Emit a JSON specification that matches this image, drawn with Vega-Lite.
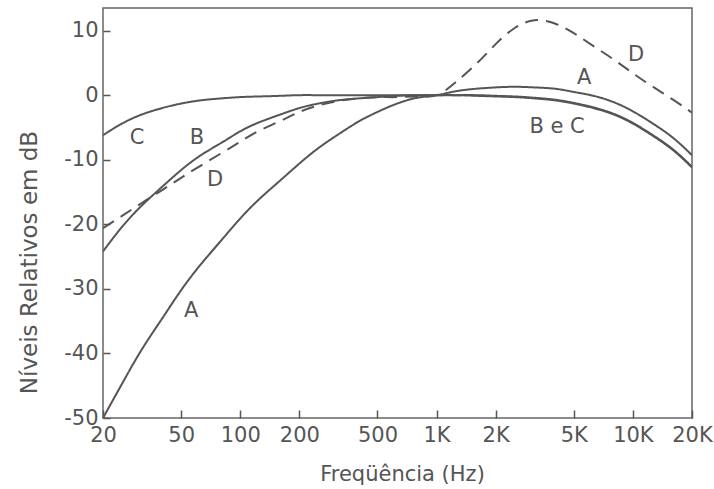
{
  "$schema": "https://vega.github.io/schema/vega-lite/v6.json",
  "autosize": "none",
  "width": 589,
  "height": 410,
  "padding": {"left": 103, "top": 8, "right": 22, "bottom": 71},
  "background": "white",
  "config": {
    "view": {"stroke": "#666", "strokeWidth": 1.5},
    "font": "DejaVu Sans"
  },
  "datasets": {
    "curves": [
      {"curve": "A", "f": 20, "db": -50}, {"curve": "A", "f": 25, "db": -44.7}, {"curve": "A", "f": 31.5, "db": -39.4}, {"curve": "A", "f": 40, "db": -34.6}, {"curve": "A", "f": 50, "db": -30.2}, {"curve": "A", "f": 63, "db": -26.2}, {"curve": "A", "f": 80, "db": -22.5}, {"curve": "A", "f": 100, "db": -19.1}, {"curve": "A", "f": 125, "db": -16.1}, {"curve": "A", "f": 160, "db": -13.2}, {"curve": "A", "f": 200, "db": -10.6}, {"curve": "A", "f": 250, "db": -8.2}, {"curve": "A", "f": 315, "db": -6.1}, {"curve": "A", "f": 400, "db": -4.1}, {"curve": "A", "f": 500, "db": -2.6}, {"curve": "A", "f": 630, "db": -1.3}, {"curve": "A", "f": 800, "db": -0.4}, {"curve": "A", "f": 1000, "db": 0}, {"curve": "A", "f": 1250, "db": 0.6}, {"curve": "A", "f": 1600, "db": 1.0}, {"curve": "A", "f": 2000, "db": 1.2}, {"curve": "A", "f": 2500, "db": 1.3}, {"curve": "A", "f": 3150, "db": 1.2}, {"curve": "A", "f": 4000, "db": 1.0}, {"curve": "A", "f": 5000, "db": 0.5}, {"curve": "A", "f": 6300, "db": -0.1}, {"curve": "A", "f": 8000, "db": -1.1}, {"curve": "A", "f": 10000, "db": -2.5}, {"curve": "A", "f": 12500, "db": -4.3}, {"curve": "A", "f": 16000, "db": -6.6}, {"curve": "A", "f": 20000, "db": -9.3},
      {"curve": "B", "f": 20, "db": -24.2}, {"curve": "B", "f": 25, "db": -20.4}, {"curve": "B", "f": 31.5, "db": -17.1}, {"curve": "B", "f": 40, "db": -14.2}, {"curve": "B", "f": 50, "db": -11.6}, {"curve": "B", "f": 63, "db": -9.3}, {"curve": "B", "f": 80, "db": -7.4}, {"curve": "B", "f": 100, "db": -5.6}, {"curve": "B", "f": 125, "db": -4.2}, {"curve": "B", "f": 160, "db": -3.0}, {"curve": "B", "f": 200, "db": -2.0}, {"curve": "B", "f": 250, "db": -1.3}, {"curve": "B", "f": 315, "db": -0.8}, {"curve": "B", "f": 400, "db": -0.5}, {"curve": "B", "f": 500, "db": -0.3}, {"curve": "B", "f": 630, "db": -0.1}, {"curve": "B", "f": 800, "db": 0}, {"curve": "B", "f": 1000, "db": 0}, {"curve": "B", "f": 1250, "db": 0}, {"curve": "B", "f": 1600, "db": 0}, {"curve": "B", "f": 2000, "db": -0.1}, {"curve": "B", "f": 2500, "db": -0.2}, {"curve": "B", "f": 3150, "db": -0.4}, {"curve": "B", "f": 4000, "db": -0.7}, {"curve": "B", "f": 5000, "db": -1.2}, {"curve": "B", "f": 6300, "db": -1.9}, {"curve": "B", "f": 8000, "db": -2.9}, {"curve": "B", "f": 10000, "db": -4.3}, {"curve": "B", "f": 12500, "db": -6.1}, {"curve": "B", "f": 16000, "db": -8.4}, {"curve": "B", "f": 20000, "db": -11.1},
      {"curve": "C", "f": 20, "db": -6.2}, {"curve": "C", "f": 25, "db": -4.4}, {"curve": "C", "f": 31.5, "db": -3.0}, {"curve": "C", "f": 40, "db": -2.0}, {"curve": "C", "f": 50, "db": -1.3}, {"curve": "C", "f": 63, "db": -0.8}, {"curve": "C", "f": 80, "db": -0.5}, {"curve": "C", "f": 100, "db": -0.3}, {"curve": "C", "f": 125, "db": -0.2}, {"curve": "C", "f": 160, "db": -0.1}, {"curve": "C", "f": 200, "db": 0}, {"curve": "C", "f": 250, "db": 0}, {"curve": "C", "f": 315, "db": 0}, {"curve": "C", "f": 400, "db": 0}, {"curve": "C", "f": 500, "db": 0}, {"curve": "C", "f": 630, "db": 0}, {"curve": "C", "f": 800, "db": 0}, {"curve": "C", "f": 1000, "db": 0}, {"curve": "C", "f": 1250, "db": 0}, {"curve": "C", "f": 1600, "db": -0.1}, {"curve": "C", "f": 2000, "db": -0.2}, {"curve": "C", "f": 2500, "db": -0.3}, {"curve": "C", "f": 3150, "db": -0.5}, {"curve": "C", "f": 4000, "db": -0.8}, {"curve": "C", "f": 5000, "db": -1.3}, {"curve": "C", "f": 6300, "db": -2.0}, {"curve": "C", "f": 8000, "db": -3.0}, {"curve": "C", "f": 10000, "db": -4.4}, {"curve": "C", "f": 12500, "db": -6.2}, {"curve": "C", "f": 16000, "db": -8.5}, {"curve": "C", "f": 20000, "db": -11.2},
      {"curve": "D", "f": 20, "db": -20.6}, {"curve": "D", "f": 25, "db": -18.7}, {"curve": "D", "f": 31.5, "db": -16.7}, {"curve": "D", "f": 40, "db": -14.7}, {"curve": "D", "f": 50, "db": -12.8}, {"curve": "D", "f": 63, "db": -10.9}, {"curve": "D", "f": 80, "db": -9.0}, {"curve": "D", "f": 100, "db": -7.2}, {"curve": "D", "f": 125, "db": -5.5}, {"curve": "D", "f": 160, "db": -4.0}, {"curve": "D", "f": 200, "db": -2.6}, {"curve": "D", "f": 250, "db": -1.6}, {"curve": "D", "f": 315, "db": -0.9}, {"curve": "D", "f": 400, "db": -0.5}, {"curve": "D", "f": 500, "db": -0.3}, {"curve": "D", "f": 630, "db": -0.3}, {"curve": "D", "f": 800, "db": -0.2}, {"curve": "D", "f": 1000, "db": 0}, {"curve": "D", "f": 1250, "db": 2.0}, {"curve": "D", "f": 1600, "db": 4.9}, {"curve": "D", "f": 2000, "db": 7.9}, {"curve": "D", "f": 2500, "db": 10.4}, {"curve": "D", "f": 3150, "db": 11.6}, {"curve": "D", "f": 4000, "db": 11.1}, {"curve": "D", "f": 5000, "db": 9.6}, {"curve": "D", "f": 6300, "db": 7.6}, {"curve": "D", "f": 8000, "db": 5.5}, {"curve": "D", "f": 10000, "db": 3.4}, {"curve": "D", "f": 12500, "db": 1.4}, {"curve": "D", "f": 16000, "db": -0.7}, {"curve": "D", "f": 20000, "db": -2.7}
    ],
    "labels": [
      {"label": "C", "f": 29.8, "db": -6.7},
      {"label": "B", "f": 60.2, "db": -6.7},
      {"label": "D", "f": 74.4, "db": -13.2},
      {"label": "A", "f": 56.2, "db": -33.4},
      {"label": "A", "f": 5640, "db": 2.6},
      {"label": "D", "f": 10380, "db": 6.2},
      {"label": "B e C", "f": 4110, "db": -5.0}
    ]
  },
  "layer": [
    {
      "mark": {"type": "rule", "color": "#777", "strokeWidth": 1.2},
      "encoding": {"y": {"datum": 0, "type": "quantitative", "scale": {"domain": [-50, 13.5], "nice": false, "zero": false}}}
    },
    {
      "data": {"name": "curves"},
      "mark": {"type": "line", "color": "#555", "strokeWidth": 2, "interpolate": "natural", "clip": true},
      "encoding": {
        "x": {
          "field": "f", "type": "quantitative",
          "scale": {"type": "log", "domain": [20, 20000], "nice": false},
          "axis": {
            "values": [20, 50, 100, 200, 500, 1000, 2000, 5000, 10000, 20000],
            "labelExpr": "datum.value >= 1000 ? (datum.value / 1000) + 'K' : '' + datum.value",
            "title": "Freqüência (Hz)",
            "grid": false, "domain": false,
            "ticks": true, "tickSize": -8, "tickColor": "#555", "tickWidth": 1.5,
            "labelFontSize": 21, "labelColor": "#555", "labelPadding": 14,
            "labelFlush": false,
            "titleFontSize": 21, "titleColor": "#555", "titleFontWeight": "normal",
            "titleBaseline": "alphabetic", "titleY": 62, "titleX": 299
          }
        },
        "y": {
          "field": "db", "type": "quantitative",
          "scale": {"domain": [-50, 13.5], "nice": false, "zero": false},
          "axis": {
            "values": [-50, -40, -30, -20, -10, 0, 10],
            "labelExpr": "'' + datum.value",
            "title": "Níveis Relativos em dB",
            "grid": false, "domain": false,
            "ticks": true, "tickSize": -7, "tickColor": "#555", "tickWidth": 1.5,
            "labelFontSize": 21, "labelColor": "#555", "labelPadding": 12,
            "titleFontSize": 23, "titleColor": "#555", "titleFontWeight": "normal",
            "titleX": -62, "titleY": 254
          }
        },
        "detail": {"field": "curve"},
        "strokeDash": {
          "field": "curve", "type": "nominal",
          "scale": {"domain": ["A", "B", "C", "D"], "range": [[1, 0], [1, 0], [1, 0], [13, 8]]},
          "legend": null
        }
      }
    },
    {
      "data": {"name": "labels"},
      "mark": {"type": "text", "fontSize": 21, "color": "#555", "align": "center", "baseline": "middle"},
      "encoding": {
        "x": {"field": "f", "type": "quantitative"},
        "y": {"field": "db", "type": "quantitative"},
        "text": {"field": "label"}
      }
    }
  ]
}
